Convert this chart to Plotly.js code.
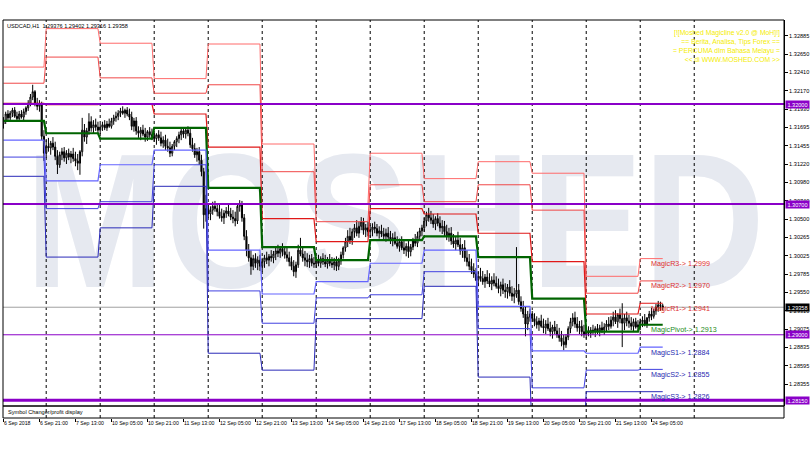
<!DOCTYPE html>
<html><head><meta charset="utf-8">
<script src="https://cdn.plot.ly/plotly-3.0.1.min.js"></script>
<style>html,body{margin:0;padding:0;background:#fff}#chart{width:810px;height:450px}</style>
</head><body><div id="chart"></div>
<script>
// ---- hourly USDCAD H1 bars (6 Sep 2018 05:00 -> 24 Sep 2018 10:00) ----
const open=[
1.3174,1.3178,1.3187,1.3182,1.3188,1.3192,1.3184,1.3181,1.3187,1.3183,1.3190,1.3195,1.3201,1.3209,1.3216,1.3201,1.3197,1.3200,1.3158,
1.3136,1.3145,1.3143,1.3149,1.3144,1.3132,1.3121,1.3134,1.3138,1.3130,1.3136,1.3131,1.3135,1.3129,1.3126,1.3123,1.3138,1.3166,1.3157,1.3165,1.3177,1.3169,1.3173,1.3170,
1.3166,1.3170,1.3173,1.3169,1.3174,1.3171,1.3178,1.3182,1.3184,1.3188,1.3191,1.3188,1.3192,1.3187,1.3183,1.3171,1.3178,1.3165,1.3162,1.3166,1.3161,1.3157,1.3164,1.3160,
1.3158,1.3155,1.3160,1.3156,1.3149,1.3153,1.3145,1.3143,1.3136,1.3145,1.3151,1.3155,1.3160,1.3165,1.3161,1.3166,1.3162,1.3147,1.3142,1.3134,1.3138,1.3127,1.3112,1.3056,
1.3064,1.3057,1.3062,1.3067,1.3064,1.3060,1.3054,1.3052,1.3058,1.3061,1.3057,1.3053,1.3051,1.3048,1.3067,1.3070,1.3052,1.3028,1.3010,1.3000,1.2989,1.2999,1.2993,1.2997,
1.2989,1.2995,1.3000,1.2997,1.3002,1.3000,1.3005,1.3009,1.3006,1.3012,1.3008,1.3004,1.3000,1.2995,1.2989,1.2982,1.2991,1.3010,1.3005,1.3000,1.2997,1.2995,1.2999,1.2993,
1.2992,1.2996,1.2993,1.2999,1.2995,1.2992,1.2997,1.2993,1.2991,1.2995,1.2989,1.2996,1.3004,1.3013,1.3021,1.3028,1.3023,1.3034,1.3039,1.3032,1.3041,1.3047,1.3036,1.3039,
1.3034,1.3036,1.3040,1.3038,1.3032,1.3035,1.3031,1.3028,1.3032,1.3027,1.3023,1.3026,1.3019,1.3015,1.3021,1.3013,1.3010,1.3015,1.3008,1.3014,1.3022,1.3019,1.3028,1.3035,
1.3039,1.3048,1.3056,1.3052,1.3049,1.3044,1.3051,1.3045,1.3039,1.3041,1.3034,1.3028,1.3032,1.3022,1.3018,1.3023,1.3017,1.3009,1.3013,1.3000,1.2995,1.2989,1.2984,1.2979,
1.2971,1.2976,1.2973,1.2969,1.2975,1.2970,1.2966,1.2971,1.2967,1.2963,1.2960,1.2965,1.2958,1.2956,1.2962,1.2954,1.2950,1.2953,1.2958,1.2943,1.2934,1.2927,1.2914,1.2923,
1.2927,1.2921,1.2917,1.2913,1.2918,1.2911,1.2909,1.2914,1.2908,1.2904,1.2910,1.2905,1.2900,1.2896,1.2891,1.2887,1.2897,1.2908,1.2917,1.2922,1.2914,1.2909,1.2911,1.2904,
1.2900,1.2905,1.2902,1.2906,1.2904,1.2908,1.2905,1.2909,1.2906,1.2910,1.2914,1.2911,1.2919,1.2923,1.2917,1.2926,1.2921,1.2915,1.2922,1.2918,1.2915,1.2911,1.2917,1.2910,
1.2913,1.2917,1.2919,1.2914,1.2922,1.2927,1.2924,1.2931,1.2936,1.2939,1.29376];
const high=[
1.3183,1.3190,1.3192,1.3191,1.3195,1.3196,1.3190,1.3191,1.3192,1.3194,1.3197,1.3205,1.3213,1.3225,1.3218,1.3208,1.3205,1.3203,1.3166,
1.3153,1.3156,1.3152,1.3157,1.3151,1.3140,1.3138,1.3143,1.3144,1.3140,1.3142,1.3139,1.3143,1.3138,1.3135,1.3140,1.3182,1.3174,1.3169,1.3188,1.3184,1.3179,1.3181,1.3177,
1.3174,1.3177,1.3179,1.3178,1.3181,1.3182,1.3186,1.3190,1.3192,1.3195,1.3197,1.3194,1.3196,1.3194,1.3190,1.3182,1.3183,1.3171,1.3170,1.3173,1.3169,1.3166,1.3170,1.3168,
1.3165,1.3162,1.3166,1.3164,1.3158,1.3160,1.3155,1.3151,1.3148,1.3153,1.3158,1.3164,1.3168,1.3170,1.3169,1.3171,1.3169,1.3156,1.3149,1.3143,1.3144,1.3134,1.3117,1.3082,
1.3071,1.3067,1.3073,1.3074,1.3071,1.3069,1.3064,1.3062,1.3066,1.3069,1.3065,1.3062,1.3060,1.3071,1.3075,1.3074,1.3057,1.3036,1.3018,1.3010,1.3004,1.3006,1.3002,1.3004,
1.3000,1.3004,1.3008,1.3005,1.3010,1.3009,1.3014,1.3017,1.3015,1.3019,1.3015,1.3013,1.3008,1.3002,1.2997,1.2995,1.3017,1.3026,1.3013,1.3009,1.3006,1.3004,1.3005,1.3001,
1.3001,1.3004,1.3002,1.3006,1.3004,1.3001,1.3005,1.3001,1.3000,1.3002,1.3000,1.3008,1.3015,1.3026,1.3036,1.3039,1.3038,1.3044,1.3049,1.3047,1.3053,1.3052,1.3044,1.3047,
1.3043,1.3045,1.3047,1.3044,1.3041,1.3043,1.3039,1.3038,1.3040,1.3035,1.3032,1.3034,1.3028,1.3025,1.3028,1.3022,1.3019,1.3023,1.3018,1.3026,1.3031,1.3034,1.3039,1.3043,
1.3052,1.3060,1.3065,1.3061,1.3057,1.3054,1.3058,1.3054,1.3049,1.3048,1.3043,1.3039,1.3040,1.3031,1.3028,1.3034,1.3026,1.3018,1.3023,1.3010,1.3005,1.2999,1.2993,1.2987,
1.2982,1.2987,1.2983,1.2979,1.2984,1.2980,1.2976,1.2980,1.2976,1.2973,1.2969,1.2973,1.2967,1.2966,1.2971,1.2963,1.2961,1.3014,1.2966,1.2950,1.2944,1.2937,1.2931,1.2934,
1.2931,1.2928,1.2924,1.2922,1.2926,1.2921,1.2919,1.2922,1.2917,1.2913,1.2918,1.2914,1.2909,1.2905,1.2900,1.2901,1.2911,1.2922,1.2928,1.2930,1.2923,1.2918,1.2919,1.2913,
1.2908,1.2911,1.2910,1.2913,1.2911,1.2914,1.2913,1.2917,1.2915,1.2919,1.2923,1.2924,1.2930,1.2932,1.2928,1.2934,1.2941,1.2927,1.2930,1.2926,1.2923,1.2921,1.2922,1.2919,
1.2921,1.2924,1.2927,1.2923,1.2931,1.2935,1.2934,1.2940,1.2944,1.2943,1.29402];
const low=[
1.3168,1.3174,1.3179,1.3178,1.3183,1.3182,1.3178,1.3177,1.3181,1.3179,1.3186,1.3191,1.3197,1.3205,1.3197,1.3192,1.3190,1.3153,1.3126,
1.3130,1.3138,1.3134,1.3140,1.3127,1.3109,1.3117,1.3127,1.3125,1.3122,1.3127,1.3123,1.3125,1.3119,1.3114,1.3108,1.3132,1.3151,1.3148,1.3160,1.3164,1.3161,1.3165,1.3162,
1.3161,1.3165,1.3166,1.3165,1.3169,1.3168,1.3173,1.3177,1.3179,1.3183,1.3186,1.3182,1.3184,1.3179,1.3166,1.3164,1.3160,1.3156,1.3153,1.3158,1.3151,1.3152,1.3156,1.3153,
1.3151,1.3147,1.3152,1.3145,1.3143,1.3140,1.3138,1.3131,1.3132,1.3140,1.3144,1.3149,1.3153,1.3156,1.3155,1.3158,1.3143,1.3138,1.3130,1.3125,1.3121,1.3106,1.3038,1.3047,
1.3052,1.3049,1.3056,1.3060,1.3054,1.3051,1.3047,1.3044,1.3052,1.3054,1.3049,1.3045,1.3041,1.3044,1.3060,1.3047,1.3023,1.3002,1.2995,1.2978,1.2984,1.2987,1.2984,1.2983,
1.2982,1.2987,1.2992,1.2989,1.2995,1.2993,1.2997,1.3001,1.3000,1.3002,1.2999,1.2995,1.2989,1.2984,1.2976,1.2974,1.2987,1.3002,1.2995,1.2989,1.2988,1.2987,1.2989,1.2987,
1.2987,1.2989,1.2987,1.2991,1.2988,1.2986,1.2989,1.2987,1.2984,1.2983,1.2984,1.2991,1.2999,1.3008,1.3014,1.3018,1.3017,1.3026,1.3028,1.3026,1.3036,1.3030,1.3027,1.3028,
1.3026,1.3028,1.3032,1.3028,1.3025,1.3027,1.3023,1.3021,1.3023,1.3018,1.3015,1.3017,1.3012,1.3008,1.3010,1.3005,1.3002,1.3000,1.3002,1.3010,1.3015,1.3014,1.3023,1.3028,
1.3034,1.3041,1.3047,1.3044,1.3039,1.3036,1.3041,1.3034,1.3031,1.3028,1.3023,1.3021,1.3017,1.3013,1.3010,1.3014,1.3004,1.3000,1.2995,1.2989,1.2984,1.2979,1.2974,1.2970,
1.2963,1.2969,1.2965,1.2961,1.2966,1.2962,1.2958,1.2963,1.2960,1.2954,1.2950,1.2953,1.2948,1.2947,1.2950,1.2944,1.2941,1.2948,1.2939,1.2930,1.2922,1.2898,1.2906,1.2917,
1.2917,1.2911,1.2908,1.2905,1.2909,1.2902,1.2901,1.2905,1.2898,1.2895,1.2901,1.2896,1.2891,1.2885,1.2880,1.2883,1.2893,1.2902,1.2911,1.2909,1.2904,1.2901,1.2898,1.2896,
1.2895,1.2898,1.2896,1.2900,1.2897,1.2901,1.2898,1.2902,1.2900,1.2904,1.2906,1.2908,1.2911,1.2914,1.2909,1.2915,1.2884,1.2906,1.2911,1.2909,1.2906,1.2905,1.2908,1.2905,
1.2906,1.2910,1.2911,1.2909,1.2917,1.2919,1.2921,1.2926,1.2930,1.2931,1.29316];
const close=[
1.3178,1.3187,1.3182,1.3188,1.3192,1.3184,1.3181,1.3187,1.3183,1.3190,1.3195,1.3201,1.3209,1.3216,1.3201,1.3197,1.3200,1.3158,1.3136,
1.3145,1.3143,1.3149,1.3144,1.3132,1.3121,1.3134,1.3138,1.3130,1.3136,1.3131,1.3135,1.3129,1.3126,1.3123,1.3138,1.3166,1.3157,1.3165,1.3177,1.3169,1.3173,1.3170,1.3166,
1.3170,1.3173,1.3169,1.3174,1.3171,1.3178,1.3182,1.3184,1.3188,1.3191,1.3188,1.3192,1.3187,1.3183,1.3171,1.3178,1.3165,1.3162,1.3166,1.3161,1.3157,1.3164,1.3160,1.3158,
1.3155,1.3160,1.3156,1.3149,1.3153,1.3145,1.3143,1.3136,1.3145,1.3151,1.3155,1.3160,1.3165,1.3161,1.3166,1.3162,1.3147,1.3142,1.3134,1.3138,1.3127,1.3112,1.3056,1.3064,
1.3057,1.3062,1.3067,1.3064,1.3060,1.3054,1.3052,1.3058,1.3061,1.3057,1.3053,1.3051,1.3048,1.3067,1.3070,1.3052,1.3028,1.3010,1.3000,1.2989,1.2999,1.2993,1.2997,1.2989,
1.2995,1.3000,1.2997,1.3002,1.3000,1.3005,1.3009,1.3006,1.3012,1.3008,1.3004,1.3000,1.2995,1.2989,1.2982,1.2991,1.3010,1.3005,1.3000,1.2997,1.2995,1.2999,1.2993,1.2992,
1.2996,1.2993,1.2999,1.2995,1.2992,1.2997,1.2993,1.2991,1.2995,1.2989,1.2996,1.3004,1.3013,1.3021,1.3028,1.3023,1.3034,1.3039,1.3032,1.3041,1.3047,1.3036,1.3039,1.3034,
1.3036,1.3040,1.3038,1.3032,1.3035,1.3031,1.3028,1.3032,1.3027,1.3023,1.3026,1.3019,1.3015,1.3021,1.3013,1.3010,1.3015,1.3008,1.3014,1.3022,1.3019,1.3028,1.3035,1.3039,
1.3048,1.3056,1.3052,1.3049,1.3044,1.3051,1.3045,1.3039,1.3041,1.3034,1.3028,1.3032,1.3022,1.3018,1.3023,1.3017,1.3009,1.3013,1.3000,1.2995,1.2989,1.2984,1.2979,1.2971,
1.2976,1.2973,1.2969,1.2975,1.2970,1.2966,1.2971,1.2967,1.2963,1.2960,1.2965,1.2958,1.2956,1.2962,1.2954,1.2950,1.2953,1.2958,1.2943,1.2934,1.2927,1.2914,1.2923,1.2927,
1.2921,1.2917,1.2913,1.2918,1.2911,1.2909,1.2914,1.2908,1.2904,1.2910,1.2905,1.2900,1.2896,1.2891,1.2887,1.2897,1.2908,1.2917,1.2922,1.2914,1.2909,1.2911,1.2904,1.2900,
1.2905,1.2902,1.2906,1.2904,1.2908,1.2905,1.2909,1.2906,1.2910,1.2914,1.2911,1.2919,1.2923,1.2917,1.2926,1.2921,1.2915,1.2922,1.2918,1.2915,1.2911,1.2917,1.2910,1.2913,
1.2917,1.2919,1.2914,1.2922,1.2927,1.2924,1.2931,1.2936,1.2939,1.2938,1.29358];

// ---- daily pivot levels (one value per trading day) ----
const dayStart=[0,19,43,67,91,115,139,163,187,211,235,259,283];
const dayEnd  =[18,42,66,90,114,138,162,186,210,234,258,282,293];
const nextDay = 307; // 25 Sep 00:00 separator
const R3=[1.3248,1.3298,1.3279,1.3233,1.3278,1.3148,1.3070,1.3136,1.3103,1.3125,1.3110,1.2976,1.2999];
const R2=[1.3227,1.3261,1.3234,1.3214,1.3225,1.3112,1.3047,1.3095,1.3073,1.3095,1.3062,1.2954,1.2970];
const R1=[1.3201,1.3199,1.3200,1.3187,1.3144,1.3051,1.3021,1.3064,1.3057,1.3032,1.2995,1.2927,1.2941];
const PV=[1.3178,1.3162,1.3155,1.3169,1.3091,1.3014,1.2997,1.3023,1.3028,1.3001,1.2947,1.2904,1.2913];
const S1=[1.3153,1.3100,1.3121,1.3140,1.3010,1.2953,1.2969,1.2993,1.3010,1.2937,1.2879,1.2876,1.2884];
const S2=[1.3131,1.3064,1.3073,1.3121,1.2957,1.2915,1.2948,1.2952,1.2982,1.2908,1.2831,1.2854,1.2855];
const S3=[1.3106,1.3001,1.3039,1.3093,1.2876,1.2854,1.2921,1.2921,1.2963,1.2845,1.2763,1.2826,1.2826];

const tickIdx=[0,16,32,48,64,80,96,112,128,144,160,176,192,208,224,240,256,272,288];
const tickText=['6 Sep 2018','6 Sep 21:00','7 Sep 13:00','10 Sep 05:00','10 Sep 21:00','11 Sep 13:00','12 Sep 05:00','12 Sep 21:00','13 Sep 13:00','14 Sep 05:00','14 Sep 21:00','17 Sep 13:00','18 Sep 05:00','18 Sep 21:00','19 Sep 13:00','20 Sep 05:00','20 Sep 21:00','21 Sep 13:00','24 Sep 05:00'];
const yTicks=[1.32885,1.32650,1.32410,1.32170,1.31930,1.31695,1.31455,1.31220,1.30980,1.30740,1.30500,1.30265,1.30025,1.29785,1.29550,1.29310,1.29075,1.28835,1.28595,1.28355];
const hLevels=[1.32000,1.30700,1.29000,1.28150];
const hWidths=[2,2,1,3];
const lastBar={o:1.29376,h:1.29402,l:1.29316,c:1.29358};
const magicNames=['MagicR3','MagicR2','MagicR1','MagicPivot','MagicS1','MagicS2','MagicS3'];
const magicVals=[R3[12],R2[12],R1[12],PV[12],S1[12],S2[12],S3[12]];
const infoLines=['[![Moshed Magicline v2.0 @ MoH]!]','== Berita, Analisa, Tips Forex ==','= PERCUMA dlm Bahasa Melayu =','<< di WWW.MOSHED.COM >>'];

const FONT='Liberation Sans, Arial, sans-serif';
const bars=close.map((_,i)=>i);

function stepLine(levels){
  const xs=[],ys=[];
  levels.forEach((v,d)=>{xs.push(dayStart[d],dayEnd[d]);ys.push(v,v);});
  return {xs,ys};
}
const lineStyles=[
 [R3,'#ff6a6a',1],[R2,'#f04848',1],[R1,'#e01818',1.2],
 [PV,'#006400',2.2],
 [S1,'#6464ff',1.2],[S2,'#4040e0',1],[S3,'#2a2ab8',1]
];
const traces=[{
  type:'candlestick',x:bars,open:open,high:high,low:low,close:close,
  increasing:{line:{color:'#000000',width:1},fillcolor:'#ffffff'},
  decreasing:{line:{color:'#000000',width:1},fillcolor:'#000000'},
  whiskerwidth:0,hoverinfo:'skip',showlegend:false
}];
lineStyles.forEach(([lv,col,w])=>{
  const s=stepLine(lv);
  traces.push({type:'scatter',mode:'lines',x:s.xs,y:s.ys,line:{color:col,width:w},hoverinfo:'skip',showlegend:false});
});

const yDomBottom=12/398;
const shapes=[];
// watermark
shapes.push({type:'rect',xref:'paper',yref:'paper',x0:0.10,x1:0.904,y0:0.35,y1:0.735,layer:'below',
  line:{width:0},fillcolor:'rgba(0,0,0,0)',
  label:{text:'MOSHED',textposition:'middle center',font:{family:'Liberation Sans, Arial',size:192,color:'#e6e9f0',weight:'bold'}}});
// day separators
dayStart.slice(1).concat([nextDay]).forEach(ix=>{
  shapes.push({type:'line',xref:'x',yref:'paper',x0:ix,x1:ix,y0:0,y1:1,layer:'below',line:{color:'#000000',width:1,dash:'dot'}});
});
// current price line
shapes.push({type:'line',xref:'paper',yref:'y',x0:0,x1:1,y0:lastBar.c,y1:lastBar.c,layer:'below',line:{color:'#a0a0a0',width:1}});
// purple horizontal levels
hLevels.forEach((v,k)=>shapes.push({type:'line',xref:'paper',yref:'y',x0:0,x1:1,y0:v,y1:v,layer:'above',line:{color:'#8a00c8',width:hWidths[k]}}));
// main frame & sub-window frame
shapes.push({type:'rect',xref:'paper',yref:'paper',x0:0,x1:1,y0:yDomBottom,y1:1,line:{color:'#000',width:1},layer:'above'});
shapes.push({type:'rect',xref:'paper',yref:'paper',x0:0,x1:1,y0:0,y1:yDomBottom,line:{color:'#000',width:1},layer:'above'});

const annotations=[];
annotations.push({xref:'paper',yref:'paper',x:0.003,y:0.986,xanchor:'left',yanchor:'middle',showarrow:false,
  text:'USDCAD,H1  '+[lastBar.o,lastBar.h,lastBar.l,lastBar.c].map(v=>v.toFixed(5)).join(' '),font:{family:FONT,size:5.6,color:'#000'}});
annotations.push({xref:'paper',yref:'paper',x:0.997,y:0.982,xanchor:'right',yanchor:'top',align:'right',showarrow:false,
  text:infoLines.join('<br>'),font:{family:FONT,size:6.8,color:'#f4ec00'}});
annotations.push({xref:'paper',yref:'paper',x:0.004,y:yDomBottom/2,xanchor:'left',yanchor:'middle',showarrow:false,
  text:'Symbol Changer/profit display',font:{family:FONT,size:5.6,color:'#000'}});
const labelCols=['#e03030','#e03030','#e03030','#1c8a1c','#2828b0','#2828b0','#2828b0'];
magicNames.forEach((n,k)=>{
  annotations.push({xref:'x',yref:'y',x:287,y:magicVals[k],xanchor:'left',yanchor:'middle',yshift:-5,showarrow:false,
    text:n+'-> '+magicVals[k].toFixed(4),font:{family:FONT,size:7.2,color:labelCols[k]}});
});
hLevels.forEach(v=>annotations.push({xref:'paper',yref:'y',x:1,y:v,xanchor:'left',yanchor:'middle',xshift:1,showarrow:false,
  text:v.toFixed(5),bgcolor:'#8a00c8',borderpad:0.5,width:22,font:{family:FONT,size:5.6,color:'#ffffff'}}));
annotations.push({xref:'paper',yref:'y',x:1,y:lastBar.c,xanchor:'left',yanchor:'middle',xshift:1,showarrow:false,
  text:lastBar.c.toFixed(5),bgcolor:'#000000',borderpad:0.5,width:22,font:{family:FONT,size:5.6,color:'#ffffff'}});

const layout={
  width:810,height:450,margin:{l:3,r:26,t:20,b:32},
  paper_bgcolor:'#ffffff',plot_bgcolor:'#ffffff',showlegend:false,
  font:{family:FONT,size:6,color:'#000'},
  xaxis:{type:'linear',range:[-0.2,346.9],anchor:'free',position:0,showgrid:false,zeroline:false,
    tickmode:'array',tickvals:tickIdx,ticktext:tickText,ticks:'outside',ticklen:3,tickcolor:'#000',tickangle:0,
    ticklabelposition:'outside right',tickfont:{family:FONT,size:5.2,color:'#000'},showline:false,
    rangeslider:{visible:false},fixedrange:true},
  yaxis:{range:[1.28074,1.33092],domain:[yDomBottom,1],side:'right',showgrid:false,zeroline:false,
    tickmode:'array',tickvals:yTicks,ticktext:yTicks.map(v=>v.toFixed(5)),ticks:'outside',ticklen:3,tickcolor:'#000',
    tickfont:{family:FONT,size:5.6,color:'#000'},showline:true,linecolor:'#000',fixedrange:true},
  shapes:shapes,annotations:annotations
};
Plotly.newPlot('chart',traces,layout,{staticPlot:true,displayModeBar:false}).then(()=>{
  document.querySelectorAll('#chart text').forEach(t=>{
    if(t.textContent==='MOSHED'){t.setAttribute('textLength','740');t.setAttribute('lengthAdjust','spacingAndGlyphs');}
  });
});
</script></body></html>
